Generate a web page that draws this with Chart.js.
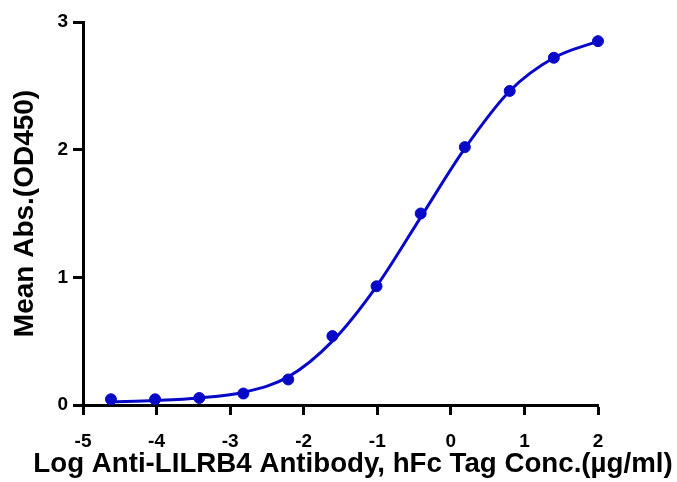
<!DOCTYPE html>
<html>
<head>
<meta charset="utf-8">
<script src="https://cdn.jsdelivr.net/npm/chart.js@4"></script>
<style>
html,body{margin:0;padding:0;background:#fff;}
#wrap{width:677px;height:482px;}
</style>
</head>
<body>
<div id="wrap"><canvas id="c" width="677" height="482"></canvas></div>
<script>
// Log concentration (µg/ml), 4-fold dilutions
const logConc = [-4.62, -4.02, -3.42, -2.82, -2.21, -1.61, -1.01, -0.41, 0.19, 0.80, 1.40, 2.00];
// Measured mean absorbance (points)
const meanAbs = [0.045, 0.045, 0.055, 0.09, 0.20, 0.54, 0.93, 1.50, 2.02, 2.46, 2.72, 2.85];
// Fitted curve at the same x
const fitAbs = [0.025, 0.035, 0.055, 0.10, 0.22, 0.50, 0.93, 1.47, 2.01, 2.46, 2.72, 2.85];
const xTicks = [-5, -4, -3, -2, -1, 0, 1, 2];
const yTicks = [0, 1, 2, 3];
const xTitle = 'Log Anti-LILRB4 Antibody, hFc Tag Conc.(µg/ml)';
const yTitle = 'Mean Abs.(OD450)';

const blue = '#0808c8';
const fontFam = 'Arial, "Liberation Sans", Helvetica, sans-serif';

// Draws the x-axis title without the chart-area width limit Chart.js imposes
const xTitlePlugin = {
  id: 'xTitle',
  afterDraw(chart) {
    const ctx = chart.ctx;
    const a = chart.chartArea;
    ctx.save();
    ctx.font = 'bold 27.7px ' + fontFam;
    ctx.fillStyle = '#000';
    ctx.textAlign = 'center';
    ctx.textBaseline = 'alphabetic';
    ctx.fillText(xTitle, (a.left + a.right) / 2 + 12.5, a.bottom + 67);
    ctx.restore();
  }
};

new Chart(document.getElementById('c'), {
  type: 'scatter',
  data: {
    datasets: [
      {
        type: 'line',
        data: logConc.map((x, i) => ({x, y: fitAbs[i]})),
        borderColor: blue,
        borderWidth: 3,
        pointRadius: 0,
        cubicInterpolationMode: 'monotone',
        fill: false,
        clip: false
      },
      {
        data: logConc.map((x, i) => ({x, y: meanAbs[i]})),
        backgroundColor: blue,
        borderColor: blue,
        pointRadius: 5.5,
        pointHoverRadius: 5.5,
        clip: false
      }
    ]
  },
  plugins: [xTitlePlugin],
  options: {
    responsive: false,
    animation: false,
    events: [],
    layout: {padding: {top: 22, right: 79, left: 0, bottom: 0}},
    plugins: {legend: {display: false}, tooltip: {enabled: false}},
    scales: {
      x: {
        type: 'linear',
        min: -5, max: 2,
        afterBuildTicks: s => { s.ticks = xTicks.map(v => ({value: v})); },
        afterFit: s => { s.height = 77; },
        border: {display: true, color: '#000', width: 3},
        grid: {display: true, drawOnChartArea: false, drawTicks: true, tickLength: 10, tickWidth: 3, tickColor: '#000'},
        ticks: {color: '#000', padding: 15, font: {family: fontFam, size: 19, weight: 'bold'}, maxRotation: 0},
        title: {display: false}
      },
      y: {
        type: 'linear',
        min: 0, max: 3,
        afterBuildTicks: s => { s.ticks = yTicks.map(v => ({value: v})); },
        afterFit: s => { s.width = 83; },
        border: {display: true, color: '#000', width: 3},
        grid: {display: true, drawOnChartArea: false, drawTicks: true, tickLength: 10, tickWidth: 3, tickColor: '#000'},
        ticks: {color: '#000', padding: 5, font: {family: fontFam, size: 19, weight: 'bold'}},
        title: {display: true, text: yTitle, color: '#000',
          font: {family: fontFam, size: 28, weight: 'bold'}, padding: {top: 8, bottom: 0}}
      }
    }
  }
});
</script>
</body>
</html>
